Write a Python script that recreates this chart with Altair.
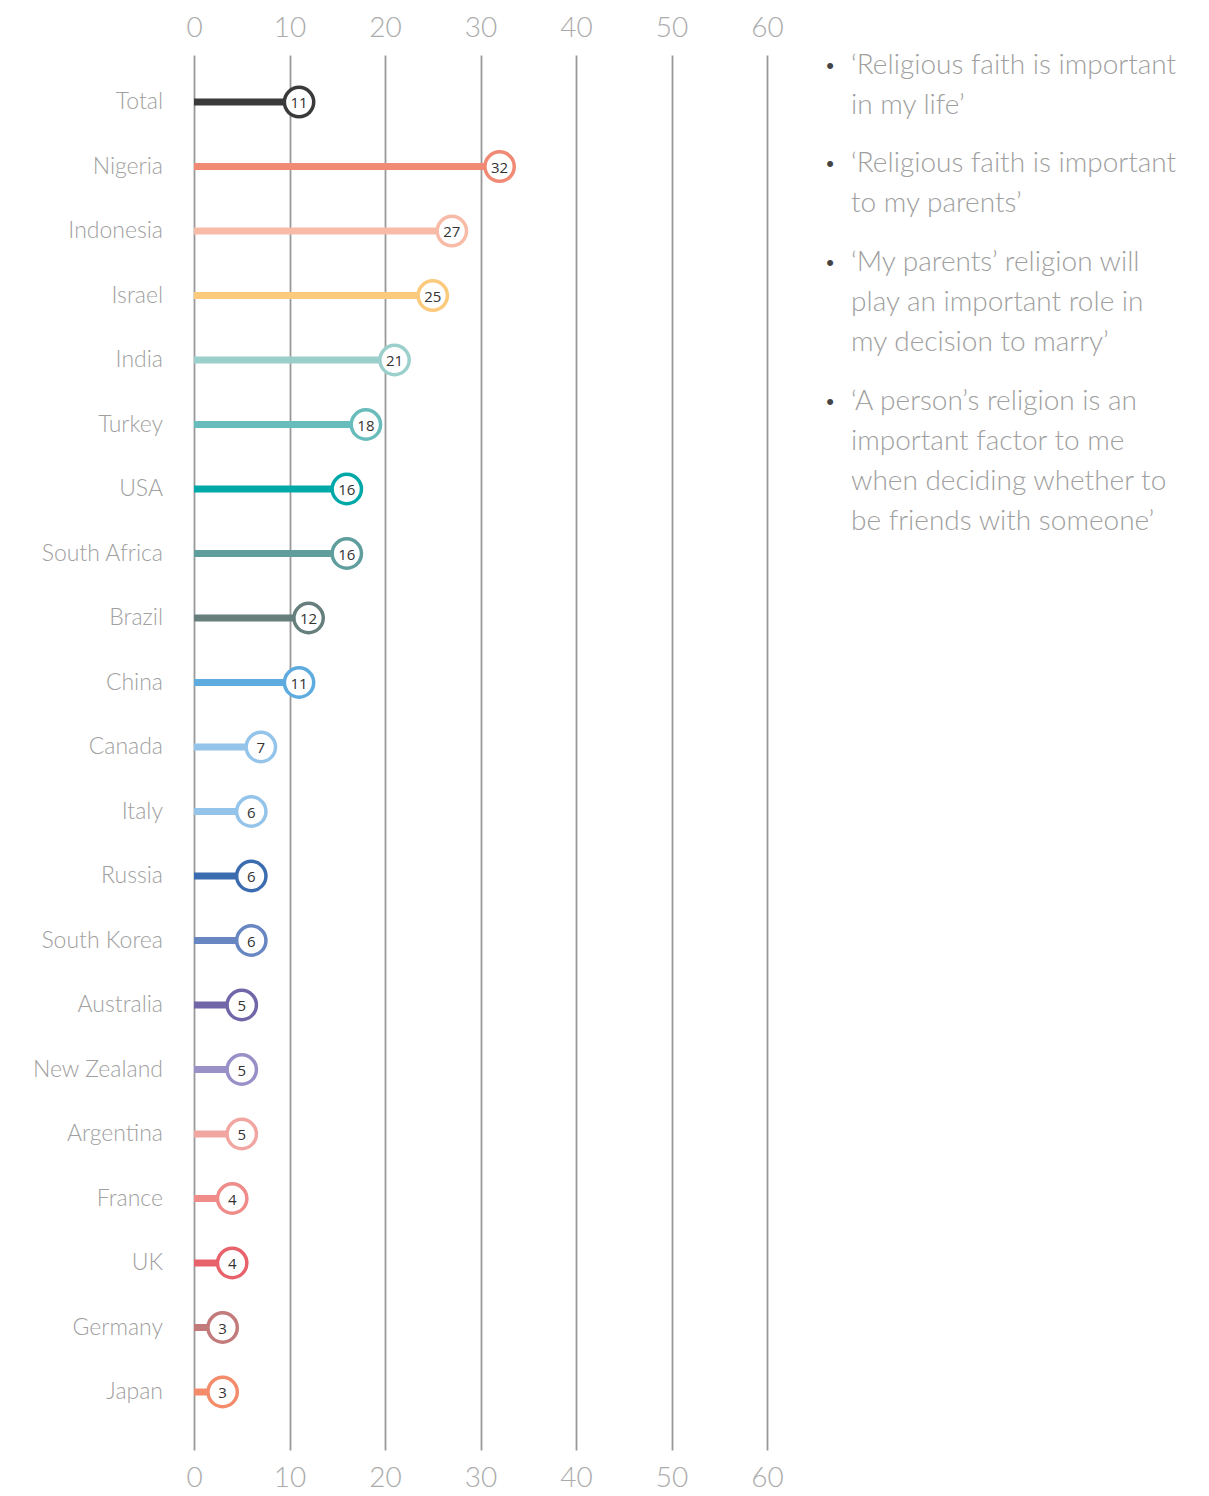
import altair as alt
import pandas as pd

countries = ["Total", "Nigeria", "Indonesia", "Israel", "India", "Turkey", "USA",
             "South Africa", "Brazil", "China", "Canada", "Italy", "Russia",
             "South Korea", "Australia", "New Zealand", "Argentina", "France",
             "UK", "Germany", "Japan"]
values = [11, 32, 27, 25, 21, 18, 16, 16, 12, 11, 7, 6, 6, 6, 5, 5, 5, 4, 4, 3, 3]
colors = ["#3a3a3a", "#f08a74", "#f8bba8", "#fbca7c", "#9bcfcc", "#68bcbc", "#00a8a8",
          "#5f9e9c", "#667f7d", "#5eabe0", "#94c4ea", "#94c4ea", "#3c6cb0",
          "#6886c2", "#7066a8", "#9990c8", "#f2a6a2", "#ef8c8a", "#e8626c",
          "#c27a7a", "#f48c6c"]
ticks = [0, 10, 20, 30, 40, 50, 60]
statements = [
    ["\u2018Religious faith is important", "in my life\u2019"],
    ["\u2018Religious faith is important", "to my parents\u2019"],
    ["\u2018My parents\u2019 religion will", "play an important role in", "my decision to marry\u2019"],
    ["\u2018A person\u2019s religion is an", "important factor to me",
     "when deciding whether to", "be friends with someone\u2019"],
]
statement_y = [19, 117, 216, 355]

df = pd.DataFrame({"country": countries, "value": values, "color": colors,
                   "row": list(range(len(countries)))})

FONT = "Lato"
xs = alt.Scale(domain=[0, 60], nice=False, zero=True)
ys = alt.Scale(domain=[-0.729, 20.899], nice=False, zero=False, reverse=True)
Y = alt.Y("row:Q", scale=ys, axis=None)

axis_common = dict(values=ticks, domain=False, ticks=False, title=None,
                   labelFont=FONT, labelFontWeight=300, labelFontSize=28,
                   labelColor="#ababab", labelFlush=False, labelOverlap=False)

base = alt.Chart(df)

lines = base.mark_rule(strokeWidth=7).encode(
    x=alt.X("value:Q", scale=xs,
            axis=alt.Axis(orient="top", grid=True, gridColor="#999999",
                          gridWidth=1.8, labelPadding=13, **axis_common)),
    x2=alt.datum(0),
    y=Y,
    color=alt.Color("color:N", scale=None),
)

circles = base.mark_circle(size=860, fill="white", strokeWidth=3.5, opacity=1).encode(
    x=alt.X("value:Q", scale=xs,
            axis=alt.Axis(orient="bottom", grid=False, labelPadding=14, **axis_common)),
    y=Y,
    stroke=alt.Stroke("color:N", scale=None),
)

vals = base.mark_text(fontSize=15, font="Open Sans", color="#333333",
                      baseline="middle", dy=1).encode(
    x=alt.X("value:Q", scale=xs, axis=None),
    y=Y,
    text="value:Q",
)

labels = base.mark_text(align="right", baseline="middle", fontSize=23, font=FONT,
                        fontWeight=300, color="#a0a0a0").encode(
    x=alt.value(-31),
    y=Y,
    text="country:N",
)

one = pd.DataFrame({"a": [0]})
notes = []
for lines_txt, yy in zip(statements, statement_y):
    notes.append(alt.Chart(one).mark_text(
        text=lines_txt, align="left", baseline="alphabetic", lineHeight=40,
        fontSize=28, font=FONT, fontWeight=300, color="#a0a0a0"
    ).encode(x=alt.value(657), y=alt.value(yy)))
    notes.append(alt.Chart(one).mark_text(
        text="\u2022", align="center", baseline="alphabetic", fontSize=22,
        color="#444444"
    ).encode(x=alt.value(636), y=alt.value(yy - 1)))

chart = alt.layer(lines, circles, vals, labels, *notes).resolve_axis(
    x="independent"
).properties(
    width=573, height=1395,
    autosize=alt.AutoSizeParams(type="none"),
    padding={"left": 194, "top": 55, "right": 442, "bottom": 46},
).configure_view(stroke=None)

chart.save("out.html", embed_options={"renderer": "svg", "actions": False})
